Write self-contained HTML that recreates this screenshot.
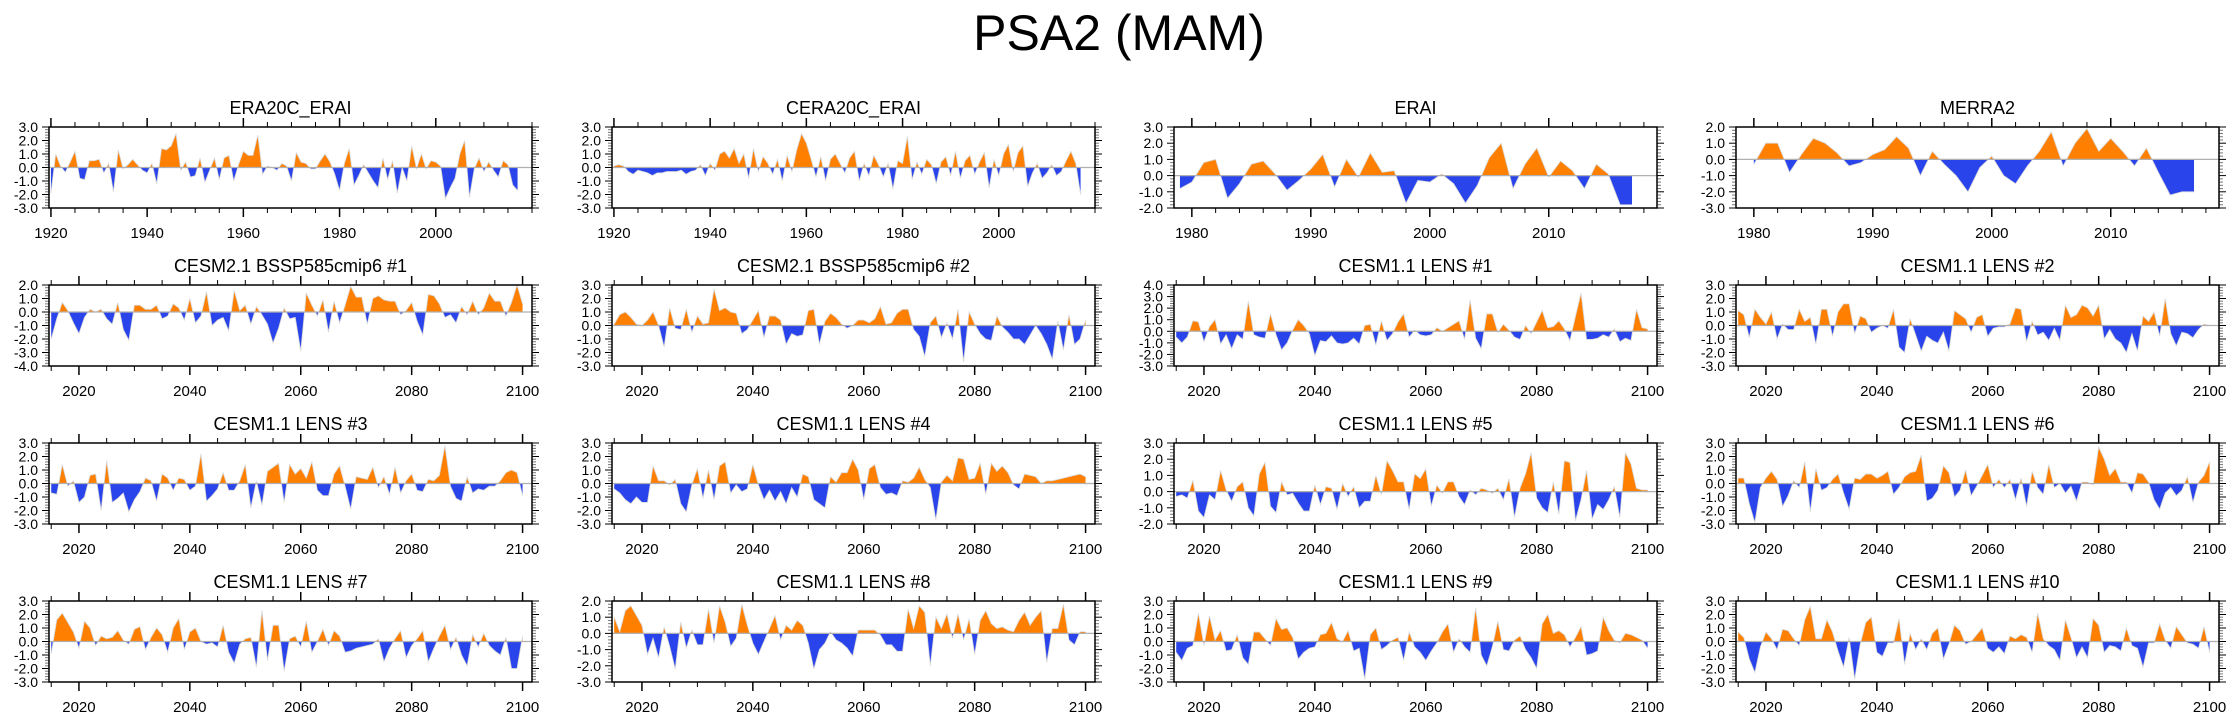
<!DOCTYPE html>
<html><head><meta charset="utf-8">
<style>
html,body{margin:0;padding:0;background:#fff;}
svg{display:block;font-family:"Liberation Sans",sans-serif;}
</style></head>
<body>
<svg id="chart" width="2238" height="719" viewBox="0 0 2238 719" xmlns="http://www.w3.org/2000/svg">
<text x="1119" y="50" font-size="50" text-anchor="middle">PSA2 (MAM)</text>
</svg>
<script>
// ---- data arrays ----
const era20cErai = [-1.9,1.0,0.1,-0.35,0.4,1.2,-0.8,-0.9,0.5,0.5,0.6,-0.4,0.3,-1.8,1.3,-0.1,0.2,0.6,0.2,-0.2,-0.4,0.3,-1.2,1.4,1.3,1.6,2.5,-0.2,0.4,-0.7,-0.6,0.7,-1.1,-0.2,0.7,-0.9,0.7,0.9,-1.0,0.2,1.2,0.9,0.9,2.4,-0.5,0.1,0.0,-0.2,0.3,0.1,-1.0,1.1,0.4,0.3,-0.1,-0.1,0.5,1.0,0.4,-0.5,-1.7,0.3,1.4,-1.3,-0.6,0.2,-0.4,-1.0,-1.5,0.7,-0.9,0.5,-1.9,0.0,-1.0,1.6,-0.1,1.0,-0.1,0.5,0.4,0.1,-2.3,-1.5,-0.8,1.0,2.0,-2.2,-0.1,0.7,-0.3,0.4,-0.2,-0.7,0.5,0.2,-1.3,-1.7];
const cera20cErai = [0.1,0.2,0.1,-0.3,-0.5,-0.2,-0.3,-0.4,-0.6,-0.4,-0.4,-0.3,-0.3,-0.3,-0.2,-0.5,-0.3,-0.2,0.2,-0.6,0.3,-0.2,1.0,1.2,0.7,1.4,0.3,1.0,-0.8,1.4,-0.3,0.8,0.3,-0.5,0.6,-1.0,0.9,-0.3,1.3,2.5,1.8,0.6,-0.7,0.8,-1.0,0.6,1.0,0.3,-0.4,0.7,1.2,-1.0,0.3,-0.6,0.9,0.2,-0.7,0.3,-1.6,0.5,0.3,2.3,-0.9,0.4,-0.5,0.6,0.2,-1.2,0.4,0.8,-0.6,1.2,-0.8,0.5,0.9,-0.5,0.4,1.1,-1.5,0.6,-0.6,1.0,1.7,-0.3,1.1,1.6,-1.4,-0.4,0.3,-0.8,-0.4,0.2,-0.6,-0.3,0.5,1.2,0.3,-2.0];
const erai = [-0.8,-0.4,0.8,1.0,-1.4,-0.5,0.7,0.9,0.1,-0.9,-0.3,0.4,1.3,-0.7,1.0,-0.1,1.4,0.2,0.3,-1.7,-0.3,-0.4,0.1,-0.5,-1.7,-0.6,1.1,2.0,-0.8,0.7,1.7,-0.1,0.9,0.3,-0.8,0.7,0.1,-1.8,-1.8];
const merra2 = [-0.3,1.0,1.0,-0.8,0.3,1.3,1.0,0.4,-0.4,-0.2,0.3,0.6,1.4,0.7,-1.0,0.5,-0.3,-1.0,-2.0,-0.5,0.2,-1.0,-1.5,-0.4,0.5,1.7,-0.4,1.0,1.9,0.5,1.3,0.5,-0.4,0.7,-0.8,-2.2,-2.0,-2.0];
const cesm2m1 = [-2.0,-0.5,0.7,0.1,-0.8,-1.6,-0.4,0.2,0.0,0.2,-0.5,-0.9,0.7,-1.3,-2.1,0.5,0.5,0.2,0.2,0.5,-0.5,-0.3,0.6,0.3,-0.6,1.0,-0.8,-0.3,1.5,-1.0,-0.6,-0.4,-1.4,1.6,0.1,0.5,-0.9,0.4,-0.2,-0.9,-2.3,-1.2,0.3,-0.5,-0.4,-2.9,1.4,0.5,-0.3,0.9,-1.5,0.8,-0.8,0.5,1.9,1.1,1.1,-0.9,1.0,1.2,0.9,0.8,0.8,-0.2,0.1,0.7,-0.7,-1.7,1.3,1.2,0.6,-0.4,-0.2,-0.8,0.4,-0.2,0.8,-0.2,0.3,1.4,0.8,0.8,-0.3,0.7,2.0,0.6];
const cesm2m2 = [0.1,0.8,1.0,0.6,0.1,0.0,0.4,1.0,0.0,-1.6,1.3,-0.2,-0.3,1.2,-0.5,0.7,0.1,0.2,2.7,1.1,1.3,1.0,0.9,-0.6,-0.3,0.4,1.1,-0.9,0.7,0.7,0.4,-1.4,-0.6,-0.8,-0.7,1.1,1.2,-1.4,0.3,0.9,0.6,0.1,-0.2,0.0,0.4,0.4,0.2,0.5,1.4,0.1,0.2,0.9,1.2,1.2,-0.3,-0.8,-2.3,0.2,0.7,-0.9,0.2,-1.0,1.2,-2.7,1.0,0.1,-0.6,-1.0,-1.1,0.7,-0.1,-0.5,-1.0,-1.0,-1.4,-0.7,0.0,-0.6,-1.4,-2.5,0.3,-1.8,0.8,-1.4,-1.0,0.4];
const lens1 = [-0.5,-1.0,-0.5,0.9,0.8,-0.9,0.4,1.0,-1.1,-0.3,-1.5,-0.3,-0.7,2.6,-0.3,-0.5,-0.6,1.5,-0.3,-1.6,-1.0,0.1,1.0,0.5,-0.2,-2.1,-0.8,-0.9,-0.4,-1.0,-1.1,-1.0,-0.6,-1.1,0.5,0.6,-1.2,0.9,-0.8,-0.2,0.8,1.5,-0.5,0.1,-0.3,-0.4,-0.3,0.3,0.0,0.3,0.6,0.9,-0.7,2.7,-0.6,-1.5,1.5,1.5,-0.1,0.6,0.1,-0.5,-0.7,0.5,-0.2,0.8,1.8,0.3,0.4,0.9,0.2,-0.8,1.3,3.3,-0.7,-0.7,-0.6,-0.3,-0.5,0.2,-0.9,-0.6,-0.8,1.9,0.3,0.2];
const lens2 = [1.1,0.8,-0.9,1.2,0.6,0.1,1.0,-1.0,0.1,-0.3,-0.3,1.2,0.3,0.6,-1.4,1.2,1.2,-0.8,1.0,1.6,1.6,-0.6,0.7,0.5,-0.5,-0.2,0.0,-0.2,1.2,-1.6,-2.0,0.5,-0.7,-1.9,-0.8,-1.1,-1.3,-0.5,-1.9,1.1,0.8,0.5,-0.5,0.6,0.8,-0.8,-0.2,-0.1,-0.1,0.1,1.3,1.2,-1.2,0.3,-0.7,-0.5,-1.1,-0.2,-1.1,1.5,0.6,0.8,1.5,1.3,0.7,1.5,-1.0,-0.3,-1.0,-1.3,-2.0,-0.6,-1.9,0.7,0.3,1.0,-0.8,2.0,-0.6,-1.5,-0.5,-0.6,-0.9,-0.3,0.1,0.0];
const lens3 = [-0.7,-0.8,1.4,-0.2,0.2,-1.4,-1.0,0.6,0.7,-2.0,1.7,-1.4,-1.1,-0.7,-2.1,-1.2,-0.6,0.4,0.2,-1.3,0.7,0.4,-0.5,0.4,0.3,-0.5,-0.2,2.2,-1.3,-0.9,-0.4,0.8,-0.5,-0.5,0.2,1.4,-1.8,0.2,-1.6,0.9,1.2,1.5,-1.4,1.4,0.7,1.1,0.4,1.6,-0.5,-0.9,-0.9,0.7,1.3,-0.2,-1.9,0.5,0.4,0.3,1.2,-0.3,0.5,-0.8,1.2,-0.7,0.2,0.7,-0.5,-0.6,0.3,0.2,0.6,2.8,-0.2,-1.1,-1.3,0.5,-0.7,-0.4,-0.5,-0.2,-0.2,0.2,0.8,1.0,0.8,-0.9];
const lens4 = [-0.4,-0.7,-1.2,-1.5,-1.0,-1.4,-1.4,1.3,0.2,0.2,-0.1,0.3,-1.5,-2.1,-0.1,1.1,-1.1,1.0,-1.2,1.3,1.6,-0.7,-0.1,-0.6,-0.4,1.4,-0.1,-1.2,-0.5,-1.3,-0.6,-1.5,-0.3,-1.0,0.7,0.5,-1.2,-1.5,-1.8,0.5,0.1,0.8,0.8,1.8,1.0,-1.2,1.1,1.4,-0.3,-0.8,-0.7,-0.9,0.2,0.1,0.4,1.2,0.3,-0.3,-2.7,0.1,0.6,0.2,1.9,1.8,0.3,0.4,1.5,-0.8,1.5,0.9,1.3,0.8,-0.1,-0.4,0.7,0.6,0.5,0.0,0.2,0.2,0.3,0.4,0.5,0.6,0.7,0.5];
const lens5 = [-0.3,-0.2,-0.4,0.7,-1.2,-1.6,-0.2,-0.5,1.3,0.1,-0.6,0.3,0.6,-1.0,-1.5,1.1,1.8,-0.9,-1.3,0.6,-0.2,-0.1,-0.7,-1.2,-1.2,0.4,-0.8,0.3,0.2,-1.1,0.5,-0.3,0.3,-1.0,-0.6,-0.6,1.0,-0.2,1.9,1.3,0.6,0.6,-1.1,1.1,0.8,1.4,-0.9,0.4,-0.1,0.6,0.6,-0.3,-0.8,0.1,-0.2,0.2,0.1,-0.1,0.2,-0.5,0.8,-1.6,0.2,1.1,2.4,-0.4,-1.0,-1.3,0.6,-1.4,1.9,1.8,-1.8,-0.5,1.3,-1.7,-0.8,-1.1,-0.5,0.3,-1.6,2.4,1.7,0.2,0.1,0.1];
const lens6 = [0.4,0.4,-1.5,-2.9,-0.3,0.4,0.9,0.3,-1.7,-0.9,0.2,-0.3,1.6,-2.1,1.1,-0.5,-0.3,0.3,0.7,-0.7,-1.9,0.4,0.3,0.7,0.7,0.4,0.6,0.9,-0.8,-0.3,0.5,0.8,0.9,2.1,-1.3,-1.1,-0.5,1.3,0.8,-1.0,-0.5,1.0,-0.9,-0.2,0.6,1.4,-0.3,0.3,-0.3,0.3,-1.2,0.4,-1.7,0.9,-0.3,-0.8,1.4,-0.3,0.0,-0.7,-0.2,-1.3,0.1,0.1,-0.1,2.7,1.8,0.6,1.1,0.1,0.1,-0.7,0.8,0.7,0.1,-1.2,-1.9,-0.7,-0.3,-0.9,-0.5,0.5,-1.4,0.1,0.6,1.6];
const lens7 = [-0.9,1.6,2.1,1.4,0.7,-0.5,1.5,1.0,-0.3,0.4,0.2,0.3,0.8,0.1,-0.2,0.9,1.1,-0.6,0.3,1.0,0.5,-0.8,1.0,1.7,-0.6,0.7,1.0,0.0,-0.2,-0.1,-0.4,1.2,-0.8,-1.6,-0.2,0.2,0.3,-1.9,2.3,-1.4,1.2,1.2,-2.2,0.2,0.4,-0.4,1.5,-0.8,0.0,0.9,-0.3,0.8,0.4,-0.8,-0.7,-0.5,-0.4,-0.3,-0.2,0.2,-1.5,-0.5,0.2,0.8,-1.2,-0.3,0.2,0.8,-1.5,-0.5,0.4,1.2,-0.6,0.3,-1.0,-1.8,0.5,-0.4,0.6,-0.3,-0.7,-1.0,0.3,-2.0,-2.0,0.4];
const lens8 = [1.0,0.1,1.4,1.7,1.1,0.5,-1.3,-0.3,-1.5,0.4,-0.8,-2.2,0.7,-0.9,0.2,-0.7,-0.7,1.5,-0.6,1.7,0.7,-0.8,-0.3,1.8,0.5,-0.6,-1.3,-0.5,0.3,1.1,-0.4,0.5,0.2,0.8,0.5,-0.6,-2.2,-1.0,-0.6,0.1,-0.4,-0.6,-0.9,-1.4,0.2,0.2,0.2,0.2,-0.1,-0.7,-0.7,-1.1,-1.1,1.5,0.3,1.7,1.3,-2.0,1.0,0.3,1.2,-0.3,1.2,-0.4,0.9,-1.3,0.8,1.4,0.6,0.3,0.4,0.2,0.1,0.8,1.3,0.5,1.0,1.4,-1.8,0.3,0.3,1.8,-0.4,-0.7,0.1,0.1];
const lens9 = [-0.8,-1.4,-0.5,-0.3,2.1,-0.3,1.9,0.1,0.8,-0.7,-0.6,0.5,-1.2,-1.7,0.7,0.7,0.2,-0.3,1.7,0.9,1.0,0.3,-1.3,-0.8,-0.5,-0.4,0.5,0.6,1.4,0.2,0.0,0.8,-0.7,-0.5,-2.8,0.5,1.0,-0.6,-0.3,0.1,0.3,-1.4,0.7,-0.4,-0.8,-1.4,-0.7,-0.1,0.7,1.3,-0.8,0.2,-0.4,-0.8,2.5,-1.0,-1.8,-0.4,1.5,-0.6,-0.7,0.1,0.4,-0.6,-1.2,-2.0,1.3,2.0,0.6,0.8,0.5,-0.4,0.3,1.1,-1.0,-0.9,-0.7,1.8,0.8,0.1,-0.1,0.6,0.5,0.3,0.1,-0.5];
const lens10 = [0.7,0.3,-1.3,-2.3,-0.4,0.7,0.2,-0.6,0.9,0.8,0.2,-0.3,1.6,2.6,0.2,0.2,1.6,0.7,-0.7,-1.9,0.3,-2.8,-0.2,1.4,1.8,-0.8,-1.1,-0.1,-0.1,1.7,-1.7,0.6,-0.6,0.2,-0.6,0.6,1.0,-1.3,-0.2,1.2,0.8,-0.2,0.0,0.5,1.0,-0.5,-0.8,-0.4,-0.9,0.4,0.2,0.5,0.3,-0.8,2.1,0.2,-0.3,-0.6,-1.4,1.6,0.3,-1.2,-0.4,-1.2,1.7,1.2,-0.8,-0.3,-0.4,-0.7,1.0,-0.3,-0.5,-1.9,-0.1,-0.1,1.3,0.1,-0.5,1.1,0.5,-0.1,-0.2,-0.5,1.1,-0.8];

// panel titles and axis config (not data values)
const panelTitles = ["ERA20C_ERAI","CERA20C_ERAI","ERAI","MERRA2","CESM2.1 BSSP585cmip6 #1","CESM2.1 BSSP585cmip6 #2","CESM1.1 LENS #1","CESM1.1 LENS #2","CESM1.1 LENS #3","CESM1.1 LENS #4","CESM1.1 LENS #5","CESM1.1 LENS #6","CESM1.1 LENS #7","CESM1.1 LENS #8","CESM1.1 LENS #9","CESM1.1 LENS #10"];
const panelSeries = [era20cErai,cera20cErai,erai,merra2,cesm2m1,cesm2m2,lens1,lens2,lens3,lens4,lens5,lens6,lens7,lens8,lens9,lens10];
const startYears = [1920,1920,1979,1980,2015,2015,2015,2015,2015,2015,2015,2015,2015,2015,2015,2015];
const yMins = [-3,-3,-2,-3,-4,-3,-3,-3,-3,-3,-2,-3,-3,-3,-3,-3];
const yMaxs = [3,3,3,2,2,3,4,3,3,3,3,3,3,2,3,3];
const xTickSets = [[1920,1940,1960,1980,2000],[1920,1940,1960,1980,2000],[1980,1990,2000,2010],[1980,1990,2000,2010],[2020,2040,2060,2080,2100]];

const NS = "http://www.w3.org/2000/svg";
const svg = document.getElementById('chart');
const colX = [49,612,1174,1736], rowY = [127,285,443,601], W = 483, H = 81;
function mk(tag, attrs, parent){ const e=document.createElementNS(NS,tag); for(const k in attrs) e.setAttribute(k,attrs[k]); (parent||svg).appendChild(e); return e; }

panelSeries.forEach((data, p) => {
  const L = colX[p%4], T = rowY[Math.floor(p/4)];
  const s0 = startYears[p];
  let xmin, xmax, majors, minorStep;
  if (s0 === 1920) { xmin = 1919.6; xmax = 2020.0; majors = xTickSets[0]; minorStep = 5; }
  else if (s0 < 2000) { xmin = 1978.5; xmax = 2019.1; majors = xTickSets[2]; minorStep = 2; }
  else { xmin = 2014.6; xmax = 2101.7; majors = xTickSets[4]; minorStep = 5; }
  const ymin = yMins[p], ymax = yMaxs[p];
  const xs = v => L + (v - xmin) / (xmax - xmin) * W;
  const ys = v => T + (ymax - v) / (ymax - ymin) * H;

  const g = mk('g', {});
  
  

  const title = mk('text', {x: L + W/2, y: T - 13, 'font-size': 18, 'text-anchor': 'middle'}, g);
  title.textContent = panelTitles[p];
  
  

  const y0 = ys(0);
  const cpU = mk('clipPath', {id: 'cu' + p}, g); mk('rect', {x: L, y: T, width: W, height: y0 - T}, cpU);
  const cpD = mk('clipPath', {id: 'cd' + p}, g); mk('rect', {x: L, y: y0, width: W, height: T + H - y0}, cpD);

  let pts = data.map((v, i) => xs(s0 + i).toFixed(2) + ',' + ys(v).toFixed(2));
  const area = 'M' + xs(s0).toFixed(2) + ',' + y0 + ' L' + pts.join(' L') + ' L' + xs(s0 + data.length - 1).toFixed(2) + ',' + y0 + ' Z';
  const up = mk('path', {d: area, fill: '#ff8000', 'clip-path': 'url(#cu' + p + ')'}, g);
  
  
  const dn = mk('path', {d: area, fill: '#2a44ec', 'clip-path': 'url(#cd' + p + ')'}, g);
  
  
  mk('polyline', {points: pts.join(' '), fill: 'none', stroke: '#d8d8d8', 'stroke-width': 0.8}, g);
  mk('line', {x1: L, x2: L + W, y1: y0, y2: y0, stroke: '#b0b0b0', 'stroke-width': 1.2}, g);

  for (let v = ymin; v <= ymax + 1e-6; v += 0.2) {
    const vv = Math.round(v * 10) / 10, y = ys(vv);
    const major = Math.abs(vv - Math.round(vv)) < 1e-6;
    const len = major ? 7 : 4, col = major ? '#000' : '#777';
    mk('line', {x1: L - len, x2: L, y1: y, y2: y, stroke: col, 'stroke-width': 1}, g);
    mk('line', {x1: L + W, x2: L + W + len, y1: y, y2: y, stroke: col, 'stroke-width': 1}, g);
    if (major) {
      const t = mk('text', {x: L - 11, y: y + 5, 'font-size': 14, 'text-anchor': 'end'}, g);
      t.textContent = vv.toFixed(1);
      
      
    }
  }
  const first = Math.ceil(xmin / minorStep) * minorStep;
  for (let yr = first; yr <= xmax; yr += minorStep) {
    const x = xs(yr), major = majors.includes(yr);
    const len = major ? 9 : 5;
    mk('line', {x1: x, x2: x, y1: T - len, y2: T, stroke: '#000', 'stroke-width': major ? 1.5 : 1}, g);
    mk('line', {x1: x, x2: x, y1: T + H, y2: T + H + len, stroke: '#000', 'stroke-width': major ? 1.5 : 1}, g);
  }
  majors.forEach(yr => {
    const t = mk('text', {x: xs(yr), y: T + H + 30, 'font-size': 15, 'text-anchor': 'middle'}, g);
    t.textContent = yr;
    
    
  });
  mk('rect', {x: L, y: T, width: W, height: H, fill: 'none', stroke: '#000', 'stroke-width': 1.5}, g);
});
</script>
</body></html>
